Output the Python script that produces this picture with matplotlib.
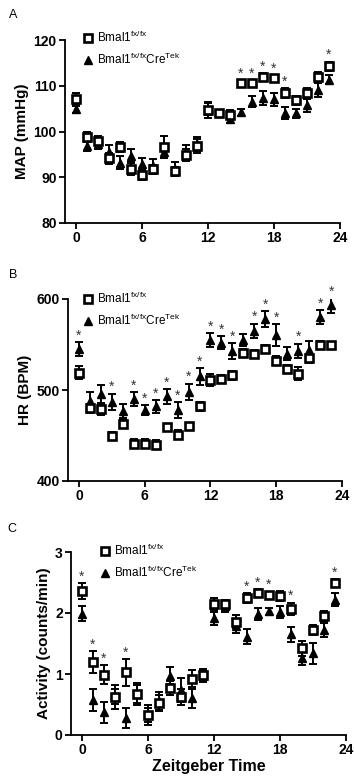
import matplotlib
matplotlib.use("Agg")
import matplotlib.pyplot as plt
import numpy as np

plt.rcParams['font.family'] = ['Liberation Sans', 'DejaVu Sans']

hours = list(range(24))

# Panel A: MAP (mmHg)
map_ctrl = [107, 98.8, 98, 94.1, 96.6, 91.9, 90.5, 91.7, 96.6, 91.3, 94.8, 96.9,
            104.6, 104.1, 103.7, 110.6, 110.6, 112, 111.6, 108.4, 106.8, 108.5, 112, 114.3]
map_ctrl_err = [1.5, 1, 1, 1.3, 1, 1.5, 1, 1, 2.5, 1, 1.3, 1.5,
                1.6, 0.7, 1, 0.7, 0.7, 0.7, 0.8, 1, 1, 1, 1, 1]
map_ko = [105, 96.8, 97.2, 95.5, 93.2, 94.6, 92.8, 92.4, 95.6, 91.8, 95.6, 97.3,
          105, 104, 102.8, 104.2, 106.5, 107.3, 107, 104.1, 104, 105.7, 109, 111.3]
map_ko_err = [1, 1, 1, 1.5, 1.5, 1.5, 1.3, 1.5, 1.5, 1.5, 1.5, 1.5,
              1.5, 0.8, 1, 0.8, 1.2, 1.5, 1.5, 1.3, 1, 1.5, 1.5, 1]
map_stars = [15, 16, 17, 18, 19, 23]

# Panel B: HR (BPM)
hr_ctrl = [519, 480, 479, 450, 463, 441, 441, 440, 459, 451, 460, 482,
           511, 512, 516, 541, 540, 545, 532, 523, 518, 535, 550, 549]
hr_ctrl_err = [7, 5, 6, 4, 5, 5, 5, 5, 4, 5, 4, 5,
               7, 4, 5, 4, 4, 4, 5, 4, 7, 5, 4, 4]
hr_ko = [545, 488, 496, 487, 477, 490, 478, 482, 493, 478, 498, 515,
         555, 552, 543, 555, 565, 578, 560, 540, 543, 544, 580, 593]
hr_ko_err = [8, 10, 10, 9, 8, 8, 5, 7, 8, 9, 9, 9,
             8, 7, 9, 7, 8, 9, 12, 7, 8, 10, 8, 8]
hr_stars = [0, 3, 5, 6, 7, 8, 9, 10, 11, 12, 13, 14, 16, 17, 18, 20, 22, 23]

# Panel C: Activity (counts/min)
act_ctrl = [2.36, 1.2, 0.99, 0.63, 1.03, 0.67, 0.33, 0.53, 0.77, 0.63, 0.92, 0.99,
            2.15, 2.14, 1.86, 2.25, 2.33, 2.29, 2.28, 2.07, 1.42, 1.72, 1.95, 2.5]
act_ctrl_err = [0.13, 0.18, 0.15, 0.12, 0.22, 0.15, 0.12, 0.12, 0.12, 0.13, 0.14, 0.1,
                0.1, 0.08, 0.1, 0.08, 0.06, 0.06, 0.08, 0.1, 0.12, 0.08, 0.08, 0.06]
act_ko = [1.99, 0.58, 0.37, 0.62, 0.28, 0.67, 0.33, 0.55, 0.97, 0.74, 0.6, 0.97,
          1.91, 2.12, 1.78, 1.61, 1.99, 2.03, 2.02, 1.65, 1.26, 1.34, 1.72, 2.22]
act_ko_err = [0.12, 0.18, 0.17, 0.2, 0.16, 0.18, 0.17, 0.15, 0.14, 0.2, 0.15, 0.1,
              0.1, 0.1, 0.1, 0.12, 0.1, 0.06, 0.1, 0.12, 0.12, 0.17, 0.12, 0.1]
act_stars = [0, 1, 2, 4, 15, 16, 17, 19, 23]

xticks = [0, 6, 12, 18, 24]
label_ctrl = 'Bmal1$^{\\mathregular{fx/fx}}$'
label_ko = 'Bmal1$^{\\mathregular{fx/fx}}$Cre$^{\\mathregular{Tek}}$'

W, H = 354, 781
fig = plt.figure(figsize=(W / 100, H / 100), dpi=100)


def px_axes(left, right, top, bottom):
    return fig.add_axes([left / W, 1 - bottom / H, (right - left) / W, (bottom - top) / H])


panels = [
    dict(box=(65, 340, 40, 223), ctrl=map_ctrl, ce=map_ctrl_err, ko=map_ko, ke=map_ko_err,
         stars=map_stars, ylim=(80, 120), yticks=[80, 90, 100, 110, 120], ylabel='MAP (mmHg)',
         letter='A', letter_xy=(9, 15), leg=(83, 30)),
    dict(box=(68, 342, 299, 481), ctrl=hr_ctrl, ce=hr_ctrl_err, ko=hr_ko, ke=hr_ko_err,
         stars=hr_stars, ylim=(400, 600), yticks=[400, 500, 600], ylabel='HR (BPM)',
         letter='B', letter_xy=(9, 275), leg=(83, 291)),
    dict(box=(71, 346, 552, 735), ctrl=act_ctrl, ce=act_ctrl_err, ko=act_ko, ke=act_ko_err,
         stars=act_stars, ylim=(0, 3), yticks=[0, 1, 2, 3], ylabel='Activity (counts/min)',
         letter='C', letter_xy=(7, 529), leg=(100, 543)),
]

for p in panels:
    l, r, t, b = p['box']
    ax = px_axes(l, r, t, b)
    x = np.array(hours)
    ax.errorbar(x, p['ko'], yerr=p['ke'], fmt='none', ecolor='black', elinewidth=1.4,
                capsize=3.2, capthick=1.4, zorder=2)
    ax.errorbar(x, p['ctrl'], yerr=p['ce'], fmt='none', ecolor='black', elinewidth=1.4,
                capsize=3.2, capthick=1.4, zorder=3)
    ax.plot(x, p['ko'], linestyle='none', marker='^', markersize=6, color='black',
            label=label_ko, zorder=4)
    ax.plot(x, p['ctrl'], linestyle='none', marker='s', markersize=5.8, markerfacecolor='white',
            markeredgecolor='black', markeredgewidth=1.9, label=label_ctrl, zorder=5)
    y0, y1 = p['ylim']
    rng = y1 - y0
    for h in p['stars']:
        top = max(p['ctrl'][h] + p['ce'][h], p['ko'][h] + p['ke'][h])
        ax.text(h, top + 0.035 * rng, '*', ha='center', va='center', fontsize=10,
                color='#333333', zorder=6)
    ax.set_xlim(-1, 24)
    ax.set_ylim(y0, y1)
    ax.set_xticks(xticks)
    ax.set_yticks(p['yticks'])
    for s in ['top', 'right']:
        ax.spines[s].set_visible(False)
    for s in ['left', 'bottom']:
        ax.spines[s].set_linewidth(1.3)
    ax.tick_params(direction='out', length=4, width=1.3, labelsize=10, pad=2)
    for lab in ax.get_xticklabels() + ax.get_yticklabels():
        lab.set_fontweight('bold')
    ax.set_ylabel(p['ylabel'], fontsize=11, fontweight='bold', labelpad=3)
    handles, labels = ax.get_legend_handles_labels()
    lx, ly = p['leg']
    ax.legend(handles[::-1], labels[::-1], loc='upper left',
              bbox_to_anchor=((lx - l) / (r - l), (b - ly) / (b - t)),
              frameon=False, fontsize=8.5, handlelength=0.9, handletextpad=0.3,
              borderpad=0, borderaxespad=0, labelspacing=0.55, markerscale=0.9)
    lxp, lyp = p['letter_xy']
    fig.text(lxp / W, 1 - lyp / H, p['letter'], fontsize=9, va='center', ha='left')
    if p['letter'] == 'C':
        ax.set_xlabel('Zeitgeber Time', fontsize=11.5, fontweight='bold', labelpad=1)

fig.savefig('out.png', dpi=100)
